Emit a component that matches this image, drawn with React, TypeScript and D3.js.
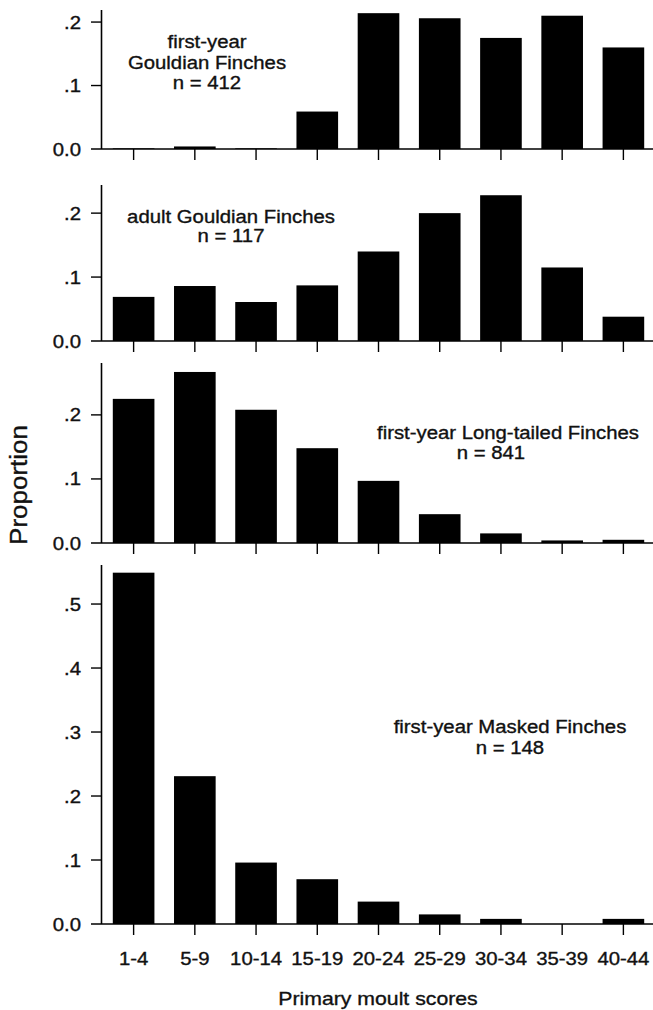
import * as d3 from "d3";
import React from "react";

// moult score classes
const categories = ["1-4", "5-9", "10-14", "15-19", "20-24", "25-29", "30-34", "35-39", "40-44"];

// proportions
const firstYearGouldian = [0.001, 0.004, 0.001, 0.059, 0.214, 0.206, 0.175, 0.21, 0.16];
const adultGouldian = [0.069, 0.086, 0.061, 0.087, 0.14, 0.2, 0.228, 0.115, 0.038];
const firstYearLongTailed = [0.225, 0.267, 0.208, 0.148, 0.097, 0.045, 0.015, 0.004, 0.005];
const firstYearMasked = [0.549, 0.231, 0.096, 0.07, 0.035, 0.015, 0.008, 0, 0.008];

// y tick values per panel
const ticksSmall = [0.1, 0.2];
const ticksLarge = [0.1, 0.2, 0.3, 0.4, 0.5];

const W = 653;
const H = 1010;
const FONT = "'Liberation Sans', Arial, Helvetica, sans-serif";
const STRETCH = 1.13;

// panel layout: axis top, baseline, y max, labels
const panels = [
    {
        values: firstYearGouldian, ticks: ticksSmall, top: 10, base: 149, yMax: 0.219,
        labels: [
            { text: "first-year", x: 207, y: 48 },
            { text: "Gouldian Finches", x: 207, y: 68.5 },
            { text: "n = 412", x: 207, y: 89 },
        ],
    },
    {
        values: adultGouldian, ticks: ticksSmall, top: 185, base: 341, yMax: 0.244,
        labels: [
            { text: "adult Gouldian Finches", x: 231, y: 223 },
            { text: "n = 117", x: 231, y: 242 },
        ],
    },
    {
        values: firstYearLongTailed, ticks: ticksSmall, top: 363, base: 543, yMax: 0.281,
        labels: [
            { text: "first-year Long-tailed Finches", x: 508, y: 439 },
            { text: "n = 841", x: 491, y: 459 },
        ],
    },
    {
        values: firstYearMasked, ticks: ticksLarge, top: 565, base: 924, yMax: 0.561,
        labels: [
            { text: "first-year Masked Finches", x: 510, y: 733 },
            { text: "n = 148", x: 510, y: 754 },
        ],
    },
];

const fmt = (v: number) => (v === 0 ? "0.0" : d3.format(".1f")(v).replace(/^0/, ""));

const Txt = ({ x, y, children, anchor = "middle", size = 18, rotate = 0 }: any) => (
    <text
        transform={`translate(${x},${y}) rotate(${rotate}) scale(${STRETCH},1)`}
        textAnchor={anchor}
        fontSize={size}
        fontFamily={FONT}
        fill="#111"
        stroke="#111"
        strokeWidth={0.35}
    >
        {children}
    </text>
);

const axisX = 101.5;

const Panel = ({ p, last }: any) => {
    const x = d3.scaleBand<string>()
        .domain(categories)
        .range([103, 654])
        .paddingInner(0.32)
        .paddingOuter(0.16);
    const y = d3.scaleLinear().domain([0, p.yMax]).range([p.base, p.top]);
    const bw = x.bandwidth();

    return (
        <g>
            {p.values.map((v: number, i: number) => (
                <rect
                    key={i}
                    x={x(categories[i])}
                    y={y(v)}
                    width={bw}
                    height={Math.max(0, y(0) - y(v))}
                    fill="#000"
                />
            ))}
            {/* y axis */}
            <line x1={axisX} x2={axisX} y1={p.top} y2={p.base} stroke="#000" strokeWidth={1.6} />
            <line x1={91} x2={W} y1={p.base} y2={p.base} stroke="#000" strokeWidth={1.6} />
            {p.ticks.map((t: number) => (
                <g key={t}>
                    <line x1={91} x2={axisX} y1={y(t)} y2={y(t)} stroke="#000" strokeWidth={1.4} />
                    <Txt x={81} y={y(t) + 6.5} anchor="end">{fmt(t)}</Txt>
                </g>
            ))}
            <Txt x={81} y={p.base + 6.5} anchor="end">{fmt(0)}</Txt>
            {/* x ticks */}
            {categories.map((c) => {
                const cx = (x(c) as number) + bw / 2;
                return (
                    <line key={c} x1={cx} x2={cx} y1={p.base} y2={p.base + 11} stroke="#000" strokeWidth={1.4} />
                );
            })}
            {last && categories.map((c) => (
                <Txt key={c} x={(x(c) as number) + bw / 2} y={965}>{c}</Txt>
            ))}
            {p.labels.map((l: any) => (
                <Txt key={l.text} x={l.x} y={l.y}>{l.text}</Txt>
            ))}
        </g>
    );
};

export default function App() {
    return (
        <svg
            width={W}
            height={H}
            viewBox={`0 0 ${W} ${H}`}
            style={{ position: "absolute", left: 0, top: 0, background: "#fff" }}
        >
            <rect width={W} height={H} fill="#fff" />
            {panels.map((p, i) => (
                <Panel key={i} p={p} last={i === panels.length - 1} />
            ))}
            <Txt x={27} y={485} rotate={-90} size={23}>Proportion</Txt>
            <Txt x={378} y={1005} size={18.8}>Primary moult scores</Txt>
        </svg>
    );
}
